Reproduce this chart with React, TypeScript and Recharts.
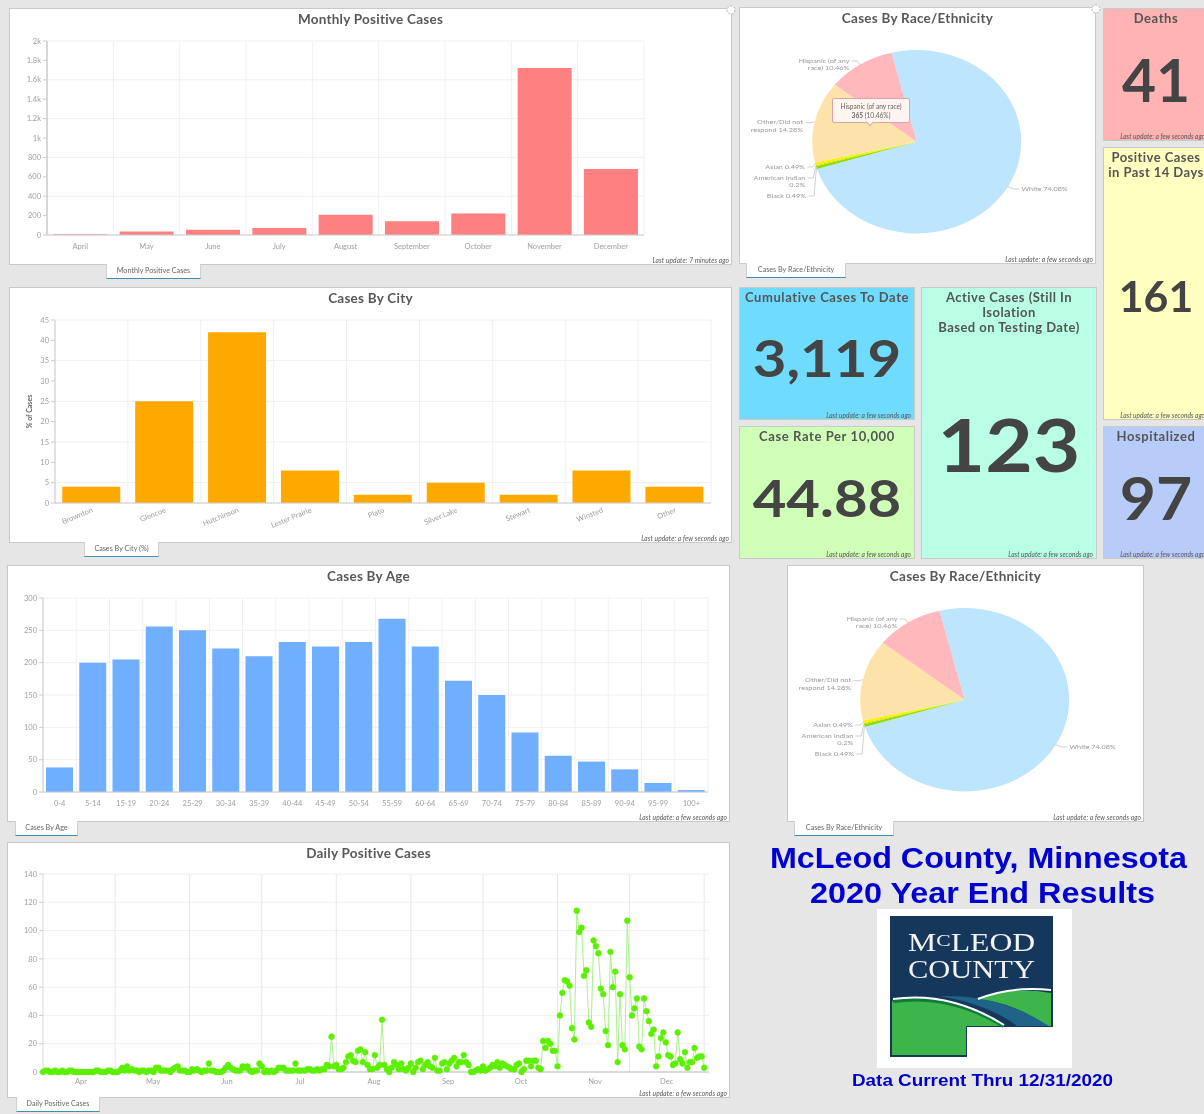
import React from "react";
import {
  BarChart, Bar, LineChart, Line, PieChart, Pie, Cell, XAxis, YAxis, CartesianGrid, ReferenceLine,
} from "recharts";

const monthNames = ["April", "May", "June", "July", "August", "September", "October", "November", "December"];
const monthlyCases = [8, 36, 55, 72, 208, 142, 221, 1722, 680];
const monthlyTicks = [0, 200, 400, 600, 800, 1000, 1200, 1400, 1600, 1800, 2000];

const cityNames = ["Brownton", "Glencoe", "Hutchinson", "Lester Prairie", "Plato", "Silver Lake", "Stewart", "Winsted", "Other"];
const cityPercents = [4, 25, 42, 8, 2, 5, 2, 8, 4];
const cityTicks = [0, 5, 10, 15, 20, 25, 30, 35, 40, 45];

const ageGroups = ["0-4", "5-14", "15-19", "20-24", "25-29", "30-34", "35-39", "40-44", "45-49", "50-54", "55-59", "60-64", "65-69", "70-74", "75-79", "80-84", "85-89", "90-94", "95-99", "100+"];
const ageCases = [38, 200, 205, 256, 250, 222, 210, 232, 225, 232, 268, 225, 172, 150, 92, 56, 47, 35, 14, 3];
const ageTicks = [0, 50, 100, 150, 200, 250, 300];

const raceNames = ["White", "Black", "American Indian", "Asian", "Other/Did not respond", "Hispanic (of any race)"];
const racePercents = [74.08, 0.49, 0.2, 0.49, 14.28, 10.46];
const raceColors = ["#bde5fd", "#8ddc10", "#b9e300", "#fff000", "#fde3a9", "#ffb9bc"];

const dailyAprToJul = [
  0, 1, 1, 0, 0, 1, 0, 0, 1, 0,
  0, 1, 1, 0, 0, 0, 0, 0, 0, 0,
  0, 0, 1, 1, 0, 0, 0, 1, 1, 0,
  0, 0, 1, 3, 1, 4, 1, 2, 1, 1,
  0, 1, 1, 0, 1, 1, 0, 3, 3, 1,
  1, 1, 1, 0, 2, 3, 4, 1, 1, 1,
  0, 0, 2, 1, 2, 1, 0, 1, 1, 6,
  1, 1, 0, 0, 0, 1, 3, 5, 3, 2,
  1, 1, 1, 4, 3, 4, 1, 0, 1, 1,
  6, 4, 0, 1, 0, 1, 0, 1, 3, 3,
  3, 1, 1, 1, 1, 6, 1, 1, 1, 1,
  2, 2, 1, 1, 2,
];
const dailyJulToOct = [
  1, 2, 2, 5, 4, 25, 4, 5, 2, 2,
  3, 7, 11, 12, 8, 7, 15, 16, 7, 14,
  5, 2, 2, 12, 3, 5, 37, 5, 2, 0,
  3, 7, 5, 2, 6, 2, 1, 3, 6, 0,
  3, 7, 8, 2, 5, 7, 4, 3, 10, 1,
  1, 6, 7, 2, 6, 8, 10, 4, 7, 7,
  12, 7, 5, 0, 0, 1, 2, 1, 4, 1,
  2, 3, 5, 4, 7, 3, 6, 5, 4, 3,
  2, 2, 5, 6, 0, 2, 8, 8, 4, 8,
  8, 3, 2,
];
const dailyOctToDec = [
  22, 17, 22, 20, 15, 15, 4, 40, 56, 65,
  64, 61, 31, 23, 114, 99, 102, 68, 72, 35,
  32, 93, 89, 84, 59, 55, 29, 19, 85, 60,
  71, 7, 55, 19, 16, 107, 67, 40, 45, 52,
  18, 16, 52, 43, 36, 27, 30, 4, 11, 24,
  28, 21, 12, 11, 5, 6, 28, 9, 6, 14,
  3, 7, 7, 17, 10, 11, 11, 3,
];
const dailyTicks = [0, 20, 40, 60, 80, 100, 120, 140];
const monthStarts = [0, 30, 61, 91, 122, 153, 183, 214, 244, 275];
const monthMids = [15.8, 45.8, 76.5, 106.9, 137.7, 168.5, 198.8, 229.6, 259.4];
const monthShort = ["Apr", "May", "Jun", "Jul", "Aug", "Sep", "Oct", "Nov", "Dec"];

const monthlyData = monthNames.map((name, i) => ({ name, cases: monthlyCases[i] }));
const cityData = cityNames.map((name, i) => ({ name, pct: cityPercents[i] }));
const ageData = ageGroups.map((name, i) => ({ name, cases: ageCases[i] }));
const raceData = raceNames.map((name, i) => ({ name, pct: racePercents[i] }));
const dailyData = [...dailyAprToJul, ...dailyJulToOct, ...dailyOctToDec].map((cases, day) => ({ day, cases }));

// label placement for the pie, relative to its centre
const raceLabelLayout: Record<string, { dx: number; ys: number[]; lines: string[]; anchor: string }> = {
  White: { dx: 92, ys: [47.3], lines: ["White 74.08%"], anchor: "start" },
  Black: { dx: -97, ys: [54.3], lines: ["Black 0.49%"], anchor: "end" },
  "American Indian": { dx: -97.7, ys: [36.3, 43.3], lines: ["American Indian", "0.2%"], anchor: "end" },
  Asian: { dx: -98, ys: [25.3], lines: ["Asian 0.49%"], anchor: "end" },
  "Other/Did not respond": { dx: -99.7, ys: [-19, -11.7], lines: ["Other/Did not", "respond 14.28%"], anchor: "end" },
  "Hispanic (of any race)": { dx: -59, ys: [-80.7, -73.7], lines: ["Hispanic (of any", "race) 10.46%"], anchor: "end" },
};

const FONT = "Lato, 'Noto Sans', sans-serif";
const TICK = { fontSize: 7.5, fill: "#a0a0a0", fontFamily: FONT };
const GRID = "#f0f0f0";
const AXIS = "#cccccc";
const PIE_STRETCH = 1.14;

const bandGrid = (n: number) => ({ offset }: any) =>
  Array.from({ length: n + 1 }, (_, i) => offset.left + (i * offset.width) / n);

function Panel({ x, y, w, h, title, footer, children }: any) {
  return (
    <div style={{ position: "absolute", left: x, top: y, width: w, height: h, background: "#fff", boxSizing: "border-box", border: "1px solid #c9c9c9" }}>
      <div style={{ position: "absolute", left: 0, right: 0, top: 2, textAlign: "center", font: `700 13.5px ${FONT}`, color: "#585858", letterSpacing: 0.25 }}>{title}</div>
      <div style={{ position: "absolute", left: 0, top: 0 }}>{children}</div>
      <div style={{ position: "absolute", right: 2, bottom: 0, font: `italic 6.6px ${FONT}`, color: "#555", letterSpacing: 0.1 }}>{footer}</div>
    </div>
  );
}

function Tab({ x, y, w, label }: any) {
  return (
    <div style={{ position: "absolute", left: x, top: y - 1, width: w, height: 15, background: "#fff", boxSizing: "border-box", borderLeft: "1px solid #d0d0d0", borderRight: "1px solid #d0d0d0", borderBottom: "1.5px solid #3f8fb5", textAlign: "center", font: `7.2px/14px ${FONT}`, color: "#666" }}>
      {label}
    </div>
  );
}

function Tile({ x, y, w, h, bg, title, value, valueY, valueSize, stretch = 1.14, footer, spacing = 0.6 }: any) {
  return (
    <div style={{ position: "absolute", left: x, top: y, width: w, height: h, background: bg, boxSizing: "border-box", border: "1px solid #c9c9c9", overflow: "hidden" }}>
      <div style={{ position: "absolute", left: 0, right: 0, top: 2, textAlign: "center", font: `700 13px/15px ${FONT}`, color: "#555", letterSpacing: spacing, whiteSpace: "pre-line" }}>{title}</div>
      <div style={{ position: "absolute", left: 0, right: 0, top: valueY - valueSize / 2, height: valueSize, lineHeight: `${valueSize}px`, textAlign: "center", fontFamily: FONT, fontWeight: 700, fontSize: valueSize, color: "#444", transform: `scaleX(${stretch})` }}>{value}</div>
      <div style={{ position: "absolute", right: 3, bottom: 0, font: `italic 6.6px ${FONT}`, color: "#555", whiteSpace: "nowrap" }}>{footer}</div>
    </div>
  );
}

function raceLabel(props: any) {
  const { cx, cy, midAngle, outerRadius, name, index } = props;
  const key = name ?? raceNames[index];
  const l = raceLabelLayout[key];
  if (!l) return null;
  const rad = (-midAngle * Math.PI) / 180;
  const ex = cx + outerRadius * Math.cos(rad);
  const ey = cy + outerRadius * Math.sin(rad);
  const lx = cx + l.dx;
  const ly = cy + l.ys[0];
  const gap = l.anchor === "end" ? 2 : -2;
  const kx = lx + (l.anchor === "end" ? 7 : -7);
  return (
    <g>
      <polyline points={`${lx + gap},${ly} ${kx},${ly} ${ex},${ey}`} fill="none" stroke="#b5b5b5" strokeWidth={0.6} />
      {l.lines.map((t, i) => (
        <text key={t} x={lx} y={cy + l.ys[i]} textAnchor={l.anchor as any} dominantBaseline="middle" fontSize={6.4} fontFamily={FONT} fill="#999">{t}</text>
      ))}
    </g>
  );
}

function RacePie() {
  return (
    <div style={{ position: "absolute", left: 0, top: 0, width: 313, height: 257, transform: `scaleX(${PIE_STRETCH})`, transformOrigin: "left top" }}>
      <PieChart width={313} height={257} margin={{ top: 0, right: 0, bottom: 0, left: 0 }}>
        <Pie data={raceData} dataKey="pct" nameKey="name" cx={155} cy={133.7} outerRadius={91.7} startAngle={104} endAngle={-256}
          stroke="none" isAnimationActive={false} label={raceLabel} labelLine={false}>
          {raceData.map((d, i) => <Cell key={d.name} fill={raceColors[i]} />)}
        </Pie>
      </PieChart>
    </div>
  );
}

function ExpandIcon({ x, y }: any) {
  return (
    <svg style={{ position: "absolute", left: x - 6, top: y - 6 }} width={12} height={12}>
      <circle cx={6} cy={6} r={4} fill="#fff" stroke="#aaa" strokeWidth={1} strokeDasharray="2 1.5" />
    </svg>
  );
}

function Logo() {
  return (
    <svg style={{ position: "absolute", left: 877, top: 909 }} width={195} height={159} viewBox="877 909 195 159">
      <rect x={877} y={909} width={195} height={159} fill="#fff" />
      <path d="M890 916 H1053 V1027 H967 V1057 H890 Z" fill="#16375c" />
      <g transform="translate(908 951) scale(1.27 1)">
        <text x={0} y={0} fontFamily="'Liberation Serif', serif" fontSize={25} fill="#f2f2f2">
          M<tspan fontSize={17} dy={-5}>C</tspan><tspan dy={5}>LEOD</tspan>
        </text>
      </g>
      <text x={908} y={978} textLength={127} lengthAdjust="spacingAndGlyphs" fontFamily="'Liberation Serif', serif" fontSize={25} fill="#f2f2f2">COUNTY</text>
      <path d="M892 1001 Q950 994 1003 1026 H966 V1055 H892 Z" fill="#3db54a" />
      <path d="M975 999 Q1010 986 1051 993 V1026 H1046 Q1015 1002 975 999 Z" fill="#3db54a" />
      <path d="M940 996 Q1000 994 1049 1026 H1017 Q990 1005 940 996 Z" fill="#1f6389" />
      <path d="M893 1001 Q950 993 1004 1026" fill="none" stroke="#0f7a3c" strokeWidth={4} />
      <path d="M893 999 Q950 991 1004 1025" fill="none" stroke="#fff" strokeWidth={2} />
      <path d="M978 999 Q1010 986 1051 990" fill="none" stroke="#fff" strokeWidth={2} />
    </svg>
  );
}

export default function App() {
  return (
    <div style={{ position: "fixed", left: 0, top: 0, width: 1204, height: 1114, overflow: "hidden", background: "#e6e6e6", filter: "blur(0.5px)" }}>
      {/* Monthly */}
      <Panel x={9} y={8} w={723} h={257} title="Monthly Positive Cases" footer="Last update: 7 minutes ago">
        <BarChart width={721} height={255} data={monthlyData} margin={{ top: 32, right: 87, bottom: 0, left: 0 }} barCategoryGap="9.5%">
          <CartesianGrid stroke={GRID} verticalCoordinatesGenerator={bandGrid(9)} />
          <XAxis dataKey="name" interval={0} height={29} tick={TICK} tickLine={false} axisLine={{ stroke: AXIS }} tickMargin={3} />
          <YAxis width={37} domain={[0, 2000]} ticks={monthlyTicks} tick={TICK} tickFormatter={(v: number) => (v >= 1000 ? `${v / 1000}k` : `${v}`)} tickLine={{ stroke: AXIS }} axisLine={{ stroke: AXIS, strokeWidth: 1.5 }} tickSize={4} />
          <Bar dataKey="cases" fill="#ff8080" isAnimationActive={false} />
        </BarChart>
      </Panel>
      <Tab x={106} y={265} w={95} label="Monthly Positive Cases" />

      {/* City */}
      <Panel x={9} y={287} w={723} h={256} title="Cases By City" footer="Last update: a few seconds ago">
        <BarChart width={721} height={254} data={cityData} margin={{ top: 32, right: 20, bottom: 0, left: 0 }} barCategoryGap="10%">
          <CartesianGrid stroke={GRID} verticalCoordinatesGenerator={bandGrid(9)} />
          <XAxis dataKey="name" interval={0} height={39} tick={{ ...TICK, angle: -22, textAnchor: "end" } as any} tickLine={false} axisLine={{ stroke: AXIS }} tickMargin={-2} />
          <YAxis width={45} domain={[0, 45]} ticks={cityTicks} tick={TICK} tickLine={{ stroke: AXIS }} axisLine={{ stroke: AXIS }} tickSize={4}
            label={{ value: "% of Cases", angle: -90, position: "insideLeft", offset: 20, style: { fontSize: 7, fontWeight: 700, fill: "#666", fontFamily: FONT, textAnchor: "middle" } }} />
          <Bar dataKey="pct" fill="#ffa800" isAnimationActive={false} />
        </BarChart>
      </Panel>
      <Tab x={84} y={543} w={75} label="Cases By City (%)" />

      {/* Age */}
      <Panel x={7} y={565} w={723} h={257} title="Cases By Age" footer="Last update: a few seconds ago">
        <BarChart width={721} height={255} data={ageData} margin={{ top: 32, right: 21, bottom: 0, left: 0 }} barCategoryGap="9%">
          <CartesianGrid stroke={GRID} verticalCoordinatesGenerator={bandGrid(20)} />
          <XAxis dataKey="name" interval={0} height={29} tick={TICK} tickLine={false} axisLine={{ stroke: AXIS }} tickMargin={3} />
          <YAxis width={35} domain={[0, 300]} ticks={ageTicks} tick={TICK} tickLine={{ stroke: AXIS }} axisLine={{ stroke: AXIS }} tickSize={4} />
          <Bar dataKey="cases" fill="#70aeff" isAnimationActive={false} />
        </BarChart>
      </Panel>
      <Tab x={15} y={822} w={63} label="Cases By Age" />

      {/* Daily */}
      <Panel x={7} y={842} w={723} h={256} title="Daily Positive Cases" footer="Last update: a few seconds ago">
        <LineChart width={721} height={254} data={dailyData} margin={{ top: 31, right: 20, bottom: 0, left: 0 }}>
          <CartesianGrid stroke={GRID} vertical={false} />
          <XAxis dataKey="day" type="number" domain={[0, 277]} ticks={monthMids} interval={0} height={25} tick={TICK} tickFormatter={(v: number) => monthShort[monthMids.indexOf(v)]} tickLine={false} axisLine={{ stroke: "#d0d0d0", strokeWidth: 1.5 }} tickMargin={1} />
          <YAxis width={35} domain={[0, 140]} ticks={dailyTicks} tick={TICK} tickLine={{ stroke: AXIS }} axisLine={{ stroke: "#e4e4e4" }} tickSize={4} />
          {monthStarts.map((m) => <ReferenceLine key={m} x={m} stroke="#e8e8e8" />)}
          <Line dataKey="cases" type="linear" stroke="#aaf08c" strokeWidth={1} isAnimationActive={false}
            dot={{ r: 2.9, fill: "#5cf000", stroke: "#5cf000", strokeWidth: 0.5 }} />
        </LineChart>
      </Panel>
      <Tab x={16} y={1098} w={84} label="Daily Positive Cases" />

      {/* Race 1 */}
      <Panel x={739} y={7} w={357} h={257} title="Cases By Race/Ethnicity" footer="Last update: a few seconds ago">
        <RacePie />
        <div style={{ position: "absolute", left: 92, top: 90, width: 78, height: 25, boxSizing: "border-box", background: "rgba(255,247,242,0.96)", border: "1.5px solid #d9a5a8", borderRadius: 2, textAlign: "center", font: `6.6px/9px ${FONT}`, color: "#666", paddingTop: 3 }}>
          Hispanic (of any race)<br /><b>365</b> (10.46%)
          <div style={{ position: "absolute", left: 34, top: 20, width: 5, height: 5, background: "#fff7f2", borderRight: "1px solid #d9a5a8", borderBottom: "1px solid #d9a5a8", transform: "rotate(45deg)" }} />
        </div>
      </Panel>
      <Tab x={746} y={264} w={100} label="Cases By Race/Ethnicity" />

      {/* Race 2 */}
      <Panel x={787} y={565} w={357} h={257} title="Cases By Race/Ethnicity" footer="Last update: a few seconds ago">
        <RacePie />
      </Panel>
      <Tab x={794} y={822} w={100} label="Cases By Race/Ethnicity" />

      <ExpandIcon x={731} y={10} />
      <ExpandIcon x={1096} y={9} />

      {/* KPI tiles */}
      <Tile x={1103} y={8} w={106} h={133} bg="#ffb3b3" title="Deaths" value="41" valueY={70} valueSize={60} stretch={0.98} footer="Last update: a few seconds ago" />
      <Tile x={1103} y={147} w={106} h={273} bg="#ffffc0" title={"Positive Cases\nin Past 14 Days"} spacing={0.45} value="161" valueY={148} valueSize={42} stretch={1.02} footer="Last update: a few seconds ago" />
      <Tile x={1103} y={426} w={106} h={133} bg="#b8ccfa" title="Hospitalized" value="97" valueY={70} valueSize={60} stretch={1.04} footer="Last update: a few seconds ago" />
      <Tile x={739} y={287} w={176} h={133} bg="#6edbff" title="Cumulative Cases To Date" value="3,119" valueY={69} valueSize={51} footer="Last update: a few seconds ago" />
      <Tile x={739} y={426} w={176} h={133} bg="#d0ffb8" title="Case Rate Per 10,000" value="44.88" valueY={70} valueSize={51} footer="Last update: a few seconds ago" />
      <Tile x={921} y={287} w={176} h={272} bg="#b8ffe6" title={"Active Cases (Still In\nIsolation\nBased on Testing Date)"} spacing={0.45} value="123" valueY={156} valueSize={72} footer="Last update: a few seconds ago" />

      {/* Headings */}
      <svg style={{ position: "absolute", left: 740, top: 840 }} width={464} height={260} viewBox="740 840 464 260">
        <text x={770} y={868} textLength={417} lengthAdjust="spacingAndGlyphs" fontFamily="'Liberation Sans', Arial, sans-serif" fontWeight={700} fontSize={29} fill="#0000d0">McLeod County, Minnesota</text>
        <text x={810} y={903} textLength={345} lengthAdjust="spacingAndGlyphs" fontFamily="'Liberation Sans', Arial, sans-serif" fontWeight={700} fontSize={29} fill="#0000d0">2020 Year End Results</text>
        <text x={852} y={1086} textLength={261} lengthAdjust="spacingAndGlyphs" fontFamily="'Liberation Sans', Arial, sans-serif" fontWeight={700} fontSize={17} fill="#0000c8">Data Current Thru 12/31/2020</text>
      </svg>
      <Logo />
    </div>
  );
}
